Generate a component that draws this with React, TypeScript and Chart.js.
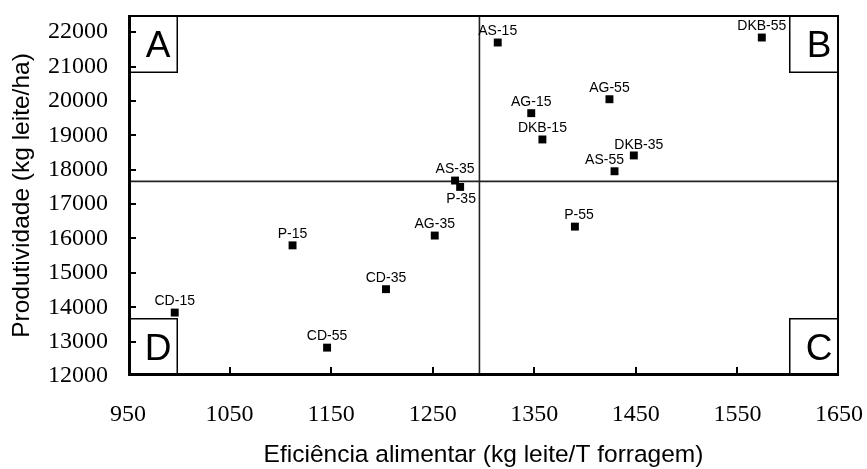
import { useEffect, useRef } from "react";
import { Chart, registerables } from "chart.js";

Chart.register(...registerables);

// ---- data ----
const pointNames = ["CD-15", "P-15", "CD-55", "CD-35", "AG-35", "AS-35", "P-35", "AS-15", "AG-15", "DKB-15", "P-55", "AS-55", "DKB-35", "AG-55", "DKB-55"];
const efficiency = [996, 1112, 1146, 1204, 1252, 1272, 1277, 1314, 1347, 1358, 1390, 1429, 1448, 1424, 1574];
const productivity = [13845, 15800, 12825, 14525, 16085, 17685, 17500, 21700, 19645, 18880, 16345, 17955, 18415, 20050, 21845];

const xTickValues = [950, 1050, 1150, 1250, 1350, 1450, 1550, 1650];
const yTickValues = [12000, 13000, 14000, 15000, 16000, 17000, 18000, 19000, 20000, 21000, 22000];
const xMin = 950;
const xMax = 1650;
const yMin = 12000;
const yMax = 22500;

const xDivider = 1296;
const yDivider = 17660;

const quadrantLetters = ["A", "B", "C", "D"];

const xTitle = "Eficiência alimentar (kg leite/T forragem)";
const yTitle = "Produtividade (kg leite/ha)";

// label placement (style only)
const labelShift: Record<string, [number, number]> = {
  "P-35": [1, 12],
  "AS-55": [-10, -11],
  "DKB-35": [5, -10],
  "P-55": [4, -11],
};

const SANS = "'Liberation Sans', Arial, sans-serif";
const SERIF = "'Liberation Serif', 'Times New Roman', serif";

const decorPlugin = {
  id: "decor",
  afterDatasetsDraw(chart: any) {
    const ctx = chart.ctx as CanvasRenderingContext2D;
    const { left, right, top, bottom } = chart.chartArea;
    const xs = chart.scales.x;
    const ys = chart.scales.y;
    ctx.save();

    // point labels
    const meta = chart.getDatasetMeta(0);
    ctx.fillStyle = "#000";
    ctx.font = `14px ${SANS}`;
    ctx.textAlign = "center";
    ctx.textBaseline = "middle";
    meta.data.forEach((el: any, i: number) => {
      const name = pointNames[i];
      const [dx, dy] = labelShift[name] || [0, -11];
      ctx.fillText(name, el.x + dx, el.y + dy);
    });

    // corner boxes
    const bw = 50;
    const bh = 58;
    const boxes: [number, number][] = [
      [left, top],
      [right - bw, top],
      [right - bw, bottom - bh],
      [left, bottom - bh],
    ];
    ctx.strokeStyle = "#000";
    ctx.lineWidth = 1.5;
    ctx.font = `37px ${SANS}`;
    boxes.forEach(([bx, by], i) => {
      ctx.fillStyle = "#fff";
      ctx.fillRect(bx, by, bw, bh);
      ctx.strokeRect(bx + 0.75, by + 0.75, bw - 1.5, bh - 1.5);
      ctx.fillStyle = "#000";
      ctx.fillText(quadrantLetters[i], bx + bw / 2 + 5, by + bh / 2 + 3);
    });

    // inward ticks
    ctx.lineWidth = 2;
    ctx.strokeStyle = "#000";
    xs.ticks.forEach((t: any) => {
      if (t.value <= xMin || t.value >= xMax) return;
      const px = Math.round(xs.getPixelForValue(t.value));
      ctx.beginPath();
      ctx.moveTo(px, bottom);
      ctx.lineTo(px, bottom - 9);
      ctx.stroke();
    });
    ys.ticks.forEach((t: any) => {
      if (t.value <= yMin || t.value >= yMax) return;
      const py = Math.round(ys.getPixelForValue(t.value));
      ctx.beginPath();
      ctx.moveTo(left, py);
      ctx.lineTo(left + 8, py);
      ctx.stroke();
    });

    // frame
    ctx.strokeStyle = "#000";
    ctx.lineWidth = 2;
    ctx.beginPath();
    ctx.moveTo(left, top + 1);
    ctx.lineTo(right - 1, top + 1);
    ctx.lineTo(right - 1, bottom);
    ctx.stroke();
    ctx.lineWidth = 3;
    ctx.beginPath();
    ctx.moveTo(left + 1.5, top);
    ctx.lineTo(left + 1.5, bottom - 1.5);
    ctx.lineTo(right, bottom - 1.5);
    ctx.stroke();

    ctx.restore();
  },
};

export default function App() {
  const ref = useRef<HTMLCanvasElement | null>(null);

  useEffect(() => {
    if (!ref.current) return;
    const points = efficiency.map((x, i) => ({ x, y: productivity[i] }));
    const chart = new Chart(ref.current, {
      type: "scatter",
      data: {
        datasets: [
          {
            type: "scatter",
            label: "pontos",
            data: points,
            pointStyle: "rect",
            pointRadius: 5.6,
            pointBackgroundColor: "#000",
            pointBorderColor: "#000",
            pointBorderWidth: 0,
            order: 0,
          } as any,
          {
            type: "line",
            label: "h",
            data: [
              { x: xMin, y: yDivider },
              { x: xMax, y: yDivider },
            ],
            borderColor: "#222",
            borderWidth: 1.6,
            pointRadius: 0,
            showLine: true,
            order: 2,
          } as any,
          {
            type: "line",
            label: "v",
            data: [
              { x: xDivider, y: yMin },
              { x: xDivider, y: yMax },
            ],
            borderColor: "#222",
            borderWidth: 1.6,
            pointRadius: 0,
            showLine: true,
            order: 2,
          } as any,
        ],
      },
      options: {
        responsive: false,
        animation: false,
        layout: { padding: { left: 0, top: 15, right: 28, bottom: 0 } },
        plugins: {
          legend: { display: false },
          tooltip: { enabled: false },
        },
        scales: {
          x: {
            type: "linear",
            min: xMin,
            max: xMax,
            grid: { display: false, drawTicks: false },
            border: { display: false },
            afterBuildTicks: (s: any) => {
              s.ticks = xTickValues.map((v) => ({ value: v }));
            },
            afterFit: (s: any) => {
              s.height = 93;
              s.paddingLeft = 0;
              s.paddingRight = 0;
              s.paddingTop = 0;
              s.paddingBottom = 0;
            },
            ticks: {
              color: "#000",
              font: { family: SERIF, size: 24 },
              padding: 24,
              maxRotation: 0,
              autoSkip: false,
              callback: (v: any) => String(v),
            },
            title: {
              display: true,
              text: xTitle,
              color: "#000",
              font: { family: SANS, size: 24.5, lineHeight: 1.1 },
              padding: { top: 0, bottom: 0 },
            },
          },
          y: {
            type: "linear",
            min: yMin,
            max: yMax,
            grid: { display: false, drawTicks: false },
            border: { display: false },
            afterBuildTicks: (s: any) => {
              s.ticks = yTickValues.map((v) => ({ value: v }));
            },
            afterFit: (s: any) => {
              s.width = 128;
              s.paddingLeft = 0;
              s.paddingRight = 0;
              s.paddingTop = 0;
              s.paddingBottom = 0;
            },
            ticks: {
              color: "#000",
              font: { family: SERIF, size: 24 },
              padding: 20,
              autoSkip: false,
              callback: (v: any) => String(v),
            },
            title: {
              display: true,
              text: yTitle,
              color: "#000",
              font: { family: SANS, size: 24.5, lineHeight: 1.1 },
              padding: { top: 9, bottom: 0 },
            },
          },
        },
      },
      plugins: [decorPlugin],
    });
    return () => chart.destroy();
  }, []);

  return (
    <div style={{ position: "absolute", left: 0, top: 0, width: 867, height: 469, background: "#fff" }}>
      <canvas ref={ref} width={867} height={469} style={{ display: "block" }} />
    </div>
  );
}
